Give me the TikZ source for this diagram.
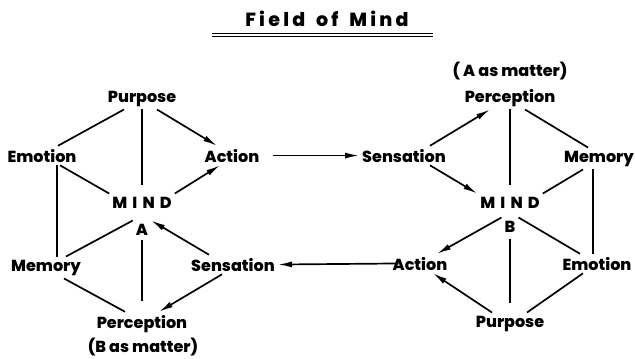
\documentclass[tikz,border=0pt]{standalone}
\usepackage{fontspec}
\setmainfont{Poppins}[BoldFont={* ExtraBold}]
\usetikzlibrary{arrows.meta,positioning}
\tikzstyle{term} = [font=\bfseries\fontsize{16}{18}\selectfont, anchor=base, inner sep=3pt]
\tikzstyle{mind} = [term, font=\bfseries\fontsize{16}{18}\selectfont\addfontfeature{LetterSpace=32}]
\tikzstyle{link} = [draw, line width=1.7pt]
\tikzstyle{flow} = [link, -{Latex[length=14pt,width=6pt]}]

\begin{document}
\begin{tikzpicture}[x=1pt,y=-1pt]
                    \useasboundingbox (0,0) rectangle (635,359);
                    \node[term, font=\bfseries\fontsize{19}{22}\selectfont\addfontfeature{LetterSpace=17}] (title) at (327,26) {Field\hspace{4pt} of\hspace{4pt} Mind};
                    \draw[line width=1pt] (212,33) -- (433,33) (212,36) -- (433,36);

                    \node[term] (purpA) at (142,102) {Purpose};
                    \node[term] (emoA) at (42,162) {Emotion};
                    \node[term] (actA) at (232,162) {Action};
                    \node[mind] (mindA) at (142,208) {MIND};
                    \node[term] (labA) at (142,235) {A};
                    \node[term] (memA) at (46,271) {Memory};
                    \node[term] (sensA) at (233,271) {Sensation};
                    \node[term] (percA) at (142,328) {Perception};
                    \node[term] (matB) at (143,352) {(B as matter)};

                    \node[term] (matA) at (510,76) {( A as matter)};
                    \node[term] (percB) at (510,102) {Perception};
                    \node[term] (sensB) at (404,162) {Sensation};
                    \node[term] (memB) at (599,162) {Memory};
                    \node[mind] (mindB) at (510,208) {MIND};
                    \node[term] (labB) at (510,232) {B};
                    \node[term] (actB) at (420,270) {Action};
                    \node[term] (emoB) at (597,270) {Emotion};
                    \node[term] (purpB) at (510,327) {Purpose};

                    \draw[link] ([xshift=-18pt]purpA.south) -- ([xshift=16pt]emoA.north);
                    \draw[link, shorten >=9pt] (purpA.south) -- (mindA.north);
                    \draw[link] ([xshift=15pt]emoA.south) -- ([xshift=11pt]memA.north);
                    \draw[link] ([xshift=18pt]emoA.south) -- (mindA.north west);
                    \draw[link] (labA.north west) -- ([xshift=20pt]memA.north);
                    \draw[link, shorten <=2pt, shorten >=11pt] (labA.south) -- (percA.north);
                    \draw[link] ([xshift=18pt]memA.south) -- ([xshift=-17pt]percA.north);
                    \draw[flow] ([xshift=15pt]purpA.south) -- ([xshift=-15pt]actA.north);
                    \draw[flow] (mindA.north east) -- ([xshift=-12pt]actA.south);
                    \draw[flow] ([xshift=-24pt]sensA.north) -- (labA.north east);
                    \draw[flow] ([xshift=-11pt]sensA.south) -- ([xshift=17pt]percA.north);

                    \draw[flow, shorten <=10pt] (actA.east) -- (sensB.west);
                    \draw[flow, shorten <=-9pt] (actB.west) -- (sensA.east);

                    \draw[link, shorten >=9pt] (percB.south) -- (mindB.north);
                    \draw[link] ([xshift=15pt]percB.south) -- ([xshift=-11pt]memB.north);
                    \draw[link] ([xshift=-16pt]memB.south) -- (mindB.north east);
                    \draw[link] ([xshift=-6pt]memB.south) -- ([xshift=-4pt]emoB.north);
                    \draw[link] (labB.north east) -- ([xshift=-17pt]emoB.north);
                    \draw[link, shorten <=4pt, shorten >=10pt] (labB.south) -- (purpB.north);
                    \draw[link] ([xshift=17pt]purpB.north) -- ([xshift=-14pt]emoB.south);
                    \draw[flow] ([xshift=26pt]sensB.north) -- ([xshift=-20pt]percB.south);
                    \draw[flow] ([xshift=26pt]sensB.south) -- (mindB.north west);
                    \draw[flow] (labB.north west) -- ([xshift=17pt]actB.north);
                    \draw[flow] ([xshift=-18pt]purpB.north) -- ([xshift=13pt]actB.south);
                \end{tikzpicture}
\end{document}
